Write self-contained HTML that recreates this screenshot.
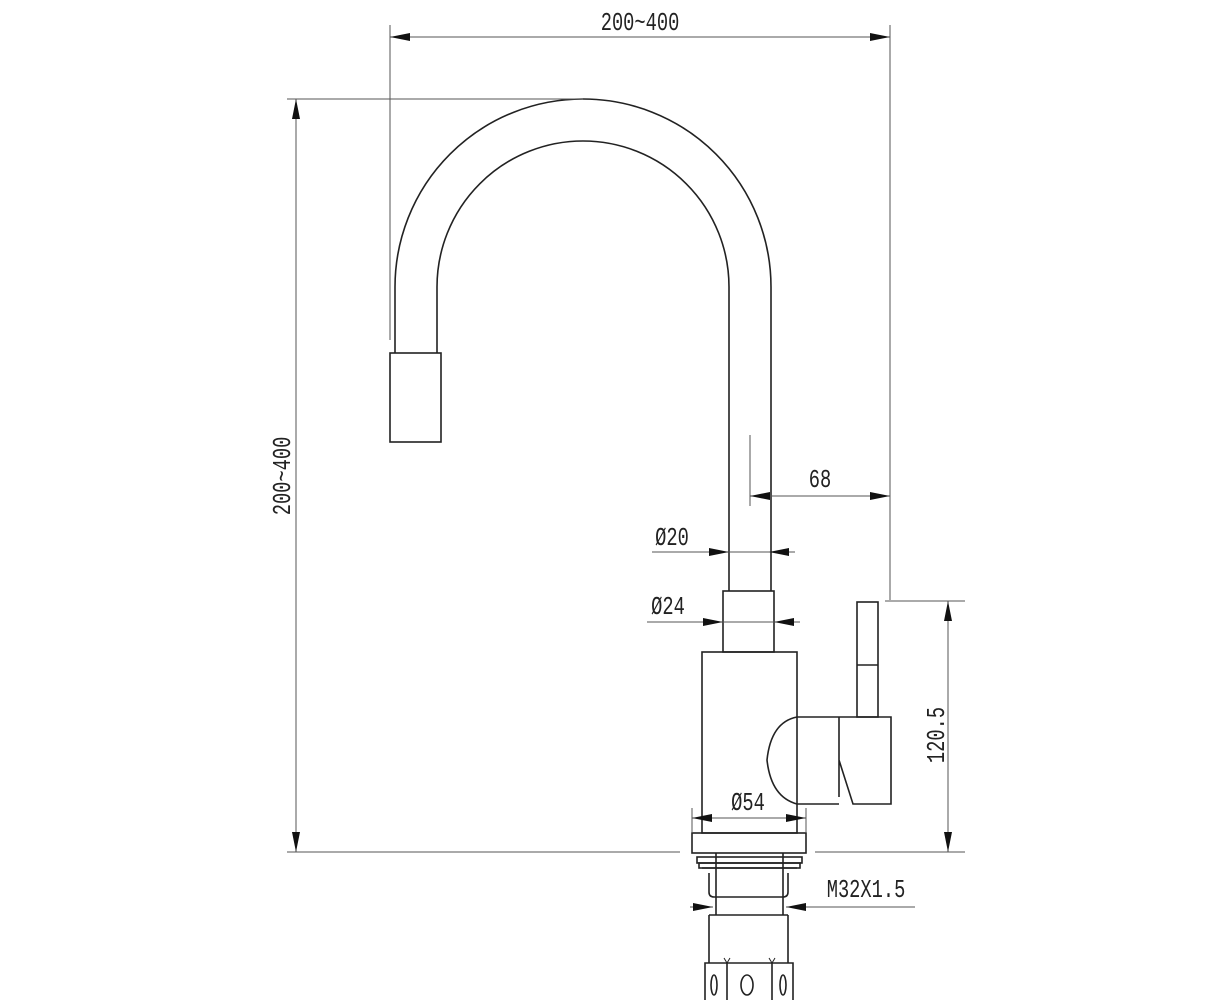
<!DOCTYPE html>
<html><head><meta charset="utf-8"><style>
html,body{margin:0;padding:0;background:#fff;}
svg{display:block}
text{font-family:"Liberation Mono",monospace;fill:#222;}
</style></head><body>
<svg width="1223" height="1000" viewBox="0 0 1223 1000" xmlns="http://www.w3.org/2000/svg">
<defs>
<marker id="a" viewBox="0 0 10 4" refX="10" refY="2" markerWidth="26" markerHeight="8" markerUnits="userSpaceOnUse" orient="auto-start-reverse"><path d="M0,0 L10,2 L0,4 Z" fill="#111"/></marker>
</defs>
<g fill="none" stroke="#222" stroke-width="1.6">
<path d="M395,353 V287 A188,188 0 0 1 771,287 V591"/>
<path d="M437,353 V287 A146,146 0 0 1 729,287 V591"/>
<rect x="390" y="353" width="51" height="89"/>
<rect x="723" y="591" width="51" height="61"/>
<rect x="702" y="652" width="95" height="181"/>
<rect x="692" y="833" width="114" height="20"/>
<rect x="697" y="857" width="105" height="6"/>
<rect x="699" y="863" width="101" height="5"/>
<path d="M702,868 H797 M709,873 V892 Q709,897 714,897 H783 Q788,897 788,892 V873"/>
<path d="M716,853 V915 M783,853 V915 M709,915 H788"/>
<path d="M709,915 V963 H705 V1000 M788,915 V963 H793 V1000 M709,963 H788"/>
<path d="M727,963 V1000 M772,963 V1000"/>
<ellipse cx="714" cy="985" rx="3" ry="10"/><ellipse cx="747" cy="985" rx="6" ry="10"/><ellipse cx="783" cy="985" rx="3" ry="10"/>
<path d="M724,958 L727,963 L730,958 M769,958 L772,963 L775,958" stroke-width="1"/>
<rect x="857" y="602" width="21" height="115"/>
<path d="M857,665 H878"/>
<path d="M797,717 H891 V804 H853 L839,760 V717 M839,760 V797"/>
<path d="M797,717 Q771,722 767,760 Q771,797 797,804 H839"/>
</g>
<g fill="none" stroke="#555" stroke-width="1">
<path d="M390,25 V340 M890,25 V600"/>
<path d="M390,37 H890" marker-start="url(#a)" marker-end="url(#a)"/>
<path d="M287,99 H583 M287,852 H680"/>
<path d="M296,99 V852" marker-start="url(#a)" marker-end="url(#a)"/>
<path d="M885,601 H965 M815,852 H965"/>
<path d="M948,601 V852" marker-start="url(#a)" marker-end="url(#a)"/>
<path d="M750,435 V506"/>
<path d="M750,496 H890" marker-start="url(#a)" marker-end="url(#a)"/>
<path d="M652,552 H729" marker-end="url(#a)"/>
<path d="M795,552 H769" marker-end="url(#a)"/>
<path d="M729,552 H769"/>
<path d="M647,622 H723" marker-end="url(#a)"/>
<path d="M800,622 H774" marker-end="url(#a)"/>
<path d="M723,622 H774"/>
<path d="M692,808 V832 M806,808 V832"/>
<path d="M692,818 H806" marker-start="url(#a)" marker-end="url(#a)"/>
<path d="M690,907 H713" marker-end="url(#a)"/>
<path d="M915,907 H786" marker-end="url(#a)"/>
</g>
<g font-size="26">
<text text-anchor="middle" transform="translate(640,30) scale(0.72,1)">200~400</text>
<text text-anchor="middle" transform="translate(290,476) rotate(-90) scale(0.72,1)">200~400</text>
<text text-anchor="middle" transform="translate(944,735) rotate(-90) scale(0.72,1)">120.5</text>
<text text-anchor="middle" transform="translate(820,487) scale(0.72,1)">68</text>
<text text-anchor="middle" transform="translate(672,545) scale(0.72,1)">Ø20</text>
<text text-anchor="middle" transform="translate(668,614) scale(0.72,1)">Ø24</text>
<text text-anchor="middle" transform="translate(748,810) scale(0.72,1)">Ø54</text>
<text text-anchor="middle" transform="translate(866,897) scale(0.72,1)">M32X1.5</text>
</g>
</svg>
</body></html>
